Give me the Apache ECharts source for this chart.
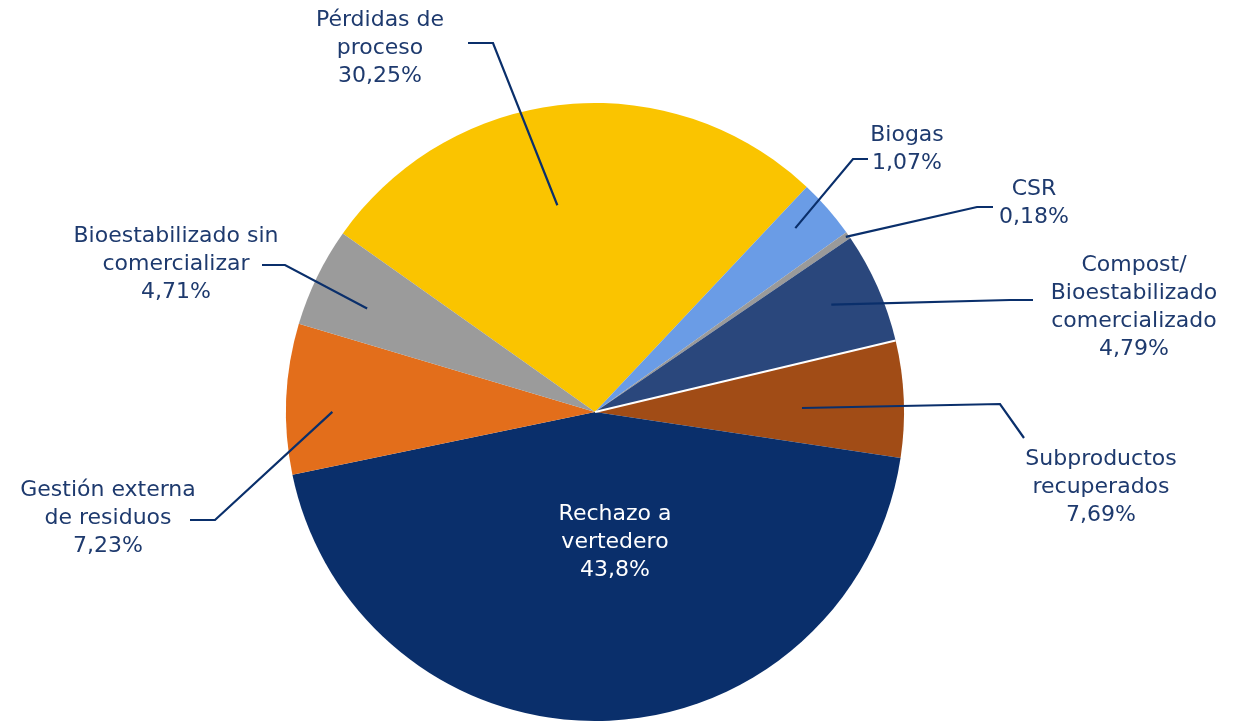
<!DOCTYPE html>
<html><head><meta charset="utf-8">
<script src="https://cdn.jsdelivr.net/npm/echarts@6/dist/echarts.min.js"></script>
<style>html,body{margin:0;padding:0;background:#fff}#c{width:1245px;height:721px}</style>
</head><body><div id="c"></div>
<script>
// Slices listed clockwise, starting from the top-left edge of "Pérdidas de proceso"
const categories = ['Pérdidas de\nproceso', 'Biogas', 'CSR', 'Compost/\nBioestabilizado\ncomercializado', 'Subproductos\nrecuperados', 'Rechazo a\nvertedero', 'Gestión externa\nde residuos', 'Bioestabilizado sin\ncomercializar'];
// slice sizes as drawn in the picture (percent of the circle)
const sliceShares = [27.2, 3.1, 0.36, 5.8, 6.1, 44.35, 7.85, 5.2];
// percentages printed in the labels
const labelPercents = ['30,25%', '1,07%', '0,18%', '4,79%', '7,69%', '43,8%', '7,23%', '4,71%'];

const colors = ['#FAC400', '#6A9CE6', '#9A9A9A', '#2A477C', '#A14C16', '#0A2F6B', '#E36E1B', '#9B9B9B'];
const CENTER = [595, 412];
const RADIUS = 309;
const START_ANGLE = 144.7;
// label layout (text block centres, leader bend/end points, leader start inside the slice)
const labelCenters = [[380,48],[907,149.5],[1034,203.5],[1134,307],[1101,487.5],[615,542],[108,518.5],[176,264.5]];
const leaderBends = [[493,43],[853,159],[977,207],[1010,300],[1000,404],null,[215,520],[285,265]];
const leaderEnds = [[468,43],[868,159],[993,207],[1033,300],[1024,438],null,[190,520],[262,265]];
const leaderDepth = [0.68, 0.88, 0.99, 0.84, 0.67, 0, 0.85, 0.81];
const leaderAngleShift = [4.6, 1.4, 0, 0.6, -1.3, 0, 2.4, 1.5];

const total = sliceShares.reduce((a,b)=>a+b,0);
const midAngles = [], edgeAngles = [];
let acc = 0;
sliceShares.forEach(v => { midAngles.push(START_ANGLE - (acc + v/2)/total*360); acc += v; edgeAngles.push(START_ANGLE - acc/total*360); });
const polar = (ang, d) => { const a = ang*Math.PI/180; return [CENTER[0] + d*Math.cos(a), CENTER[1] - d*Math.sin(a)]; };

const graphics = [];
categories.forEach((c, i) => {
  if (!leaderBends[i]) return;
  graphics.push({
    type: 'polyline', silent: true, z: 100,
    shape: {points: [polar(midAngles[i] + leaderAngleShift[i], RADIUS*leaderDepth[i]), leaderBends[i], leaderEnds[i]]},
    style: {stroke: '#0A2F6B', lineWidth: 2.2, fill: null}
  });
});
// thin white separator between "Compost" and "Subproductos"
const sepEnd = polar(edgeAngles[3], RADIUS);
graphics.push({
  type: 'line', silent: true, z: 50,
  shape: {x1: CENTER[0], y1: CENTER[1], x2: sepEnd[0], y2: sepEnd[1]},
  style: {stroke: '#ffffff', lineWidth: 2}
});

const chart = echarts.init(document.getElementById('c'), null, {renderer:'canvas'});
chart.setOption({
  animation: false,
  backgroundColor: '#ffffff',
  graphic: graphics,
  series: [{
    type: 'pie',
    center: CENTER,
    radius: [0, RADIUS],
    startAngle: START_ANGLE,
    clockwise: true,
    avoidLabelOverlap: false,
    emphasis: {disabled: true},
    itemStyle: {borderWidth: 0},
    label: {
      show: true,
      position: 'outside',
      fontFamily: 'DejaVu Sans',
      fontSize: 22,
      lineHeight: 28,
      color: '#1E3A6E',
      align: 'center',
      formatter: p => categories[p.dataIndex] + '\n' + labelPercents[p.dataIndex]
    },
    labelLine: {show: false},
    labelLayout: function (params) {
      const i = params.dataIndex;
      return {x: labelCenters[i][0], y: labelCenters[i][1], align: 'center', verticalAlign: 'middle'};
    },
    data: categories.map((c, i) => {
      const item = {name: c, value: sliceShares[i], itemStyle: {color: colors[i]}};
      if (i === 5) item.label = {color: '#ffffff'};
      return item;
    })
  }]
});
</script></body></html>
